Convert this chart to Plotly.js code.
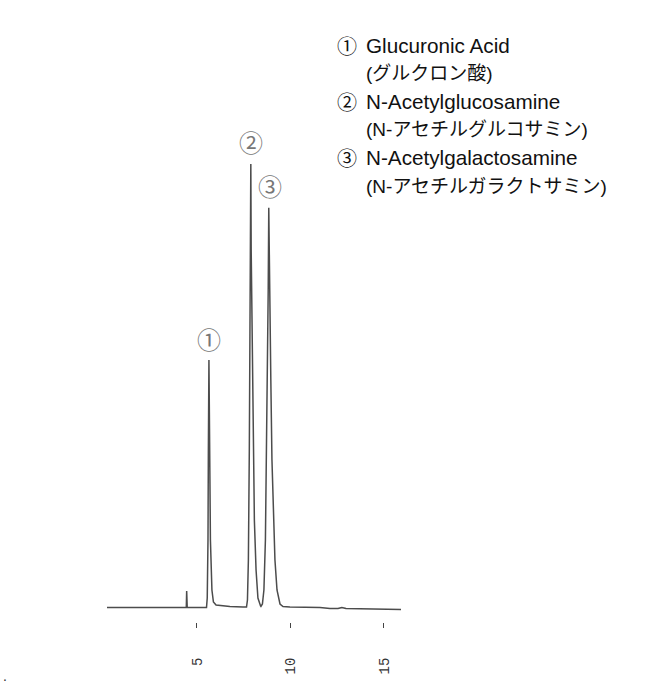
<!DOCTYPE html>
<html>
<head>
<meta charset="utf-8">
<script src="https://cdn.plot.ly/plotly-3.0.1.min.js"></script>
<style>
  html, body { margin: 0; padding: 0; background: #fff; }
  #chart { width: 648px; height: 687px; }
</style>
</head>
<body>
<div id="chart"></div>
<script>
// retention time (min) and detector response (relative, peak 2 = 100)
const retentionTime = [
  0.19, 2.49, 4.36, 4.43, 4.45, 4.48, 4.63, 5.16,
  5.51, 5.55, 5.59, 5.61, 5.64, 5.68, 5.72, 5.80, 5.88, 6.02, 6.23, 6.76, 7.46,
  7.65, 7.70, 7.75, 7.80, 7.82, 7.85, 7.88, 7.90, 7.97, 8.01, 8.07, 8.16, 8.26, 8.40,
  8.42, 8.50, 8.58, 8.66, 8.72, 8.77, 8.81, 8.84, 8.88, 8.95, 9.01, 9.09, 9.17, 9.28, 9.44, 9.60,
  9.97, 11.58, 12.11, 12.54, 12.75, 12.97, 14.25, 15.91
];
const response = [
  0, 0, 0, 0, 3.72, 0, 0, 0,
  0, 2.14, 15.2, 35.5, 55.8, 35.5, 15.2, 3.95, 1.24, 0.56, 0.45, 0.23, 0.11,
  0.11, 1.69, 10.7, 35.5, 51.3, 80.6, 100, 80.6, 51.3, 35.5, 19.7, 8.46, 2.14, 0.34,
  0.23, 0.79, 3.95, 15.2, 33.3, 51.3, 71.6, 90.1, 71.6, 51.3, 33.3, 19.7, 10.7, 3.95, 0.79, 0.23,
  0.11, 0, -0.23, -0.23, 0, -0.23, -0.34, -0.45
];

const peakLabels = ['①', '②', '③'];
const peakTimes = [5.64, 7.88, 8.84];
const peakHeights = [55.8, 100, 90.1];

const compoundNames = ['Glucuronic Acid', 'N-Acetylglucosamine', 'N-Acetylgalactosamine'];
const compoundNamesJa = ['(グルクロン酸)', '(N-アセチルグルコサミン)', '(N-アセチルガラクトサミン)'];

const tickValues = [5, 10, 15];
const tickLabels = ['5', '10', '15'];

// plot box in pixels, used to place the key text
const W = 648, H = 687;
const plotL = 107, plotR = 401, plotT = 140, plotB = 622;
const xp = px => (px - plotL) / (plotR - plotL);
const yp = py => (plotB - py) / (plotB - plotT);

const trace = {
  x: retentionTime,
  y: response,
  type: 'scatter',
  mode: 'lines',
  line: { color: '#4c4c4c', width: 1.5 },
  hoverinfo: 'skip'
};

const annotations = [];

peakLabels.forEach((lab, i) => {
  annotations.push({
    x: peakTimes[i], y: peakHeights[i], xref: 'x', yref: 'y',
    text: lab, showarrow: false,
    xanchor: 'center', yanchor: 'bottom',
    xshift: i === 2 ? 1.5 : 0, yshift: 2.5,
    font: { family: 'Noto Sans CJK JP', size: 24, color: '#777' }
  });
});

compoundNames.forEach((name, i) => {
  const yc = 45 + i * 56.4;
  annotations.push({
    x: xp(346.5), y: yp(yc), xref: 'paper', yref: 'paper',
    text: peakLabels[i], showarrow: false,
    xanchor: 'center', yanchor: 'middle',
    font: { family: 'Noto Sans CJK JP', size: 20, color: '#111' }
  });
  annotations.push({
    x: xp(364), y: yp(yc), xref: 'paper', yref: 'paper',
    text: name, showarrow: false,
    xanchor: 'left', yanchor: 'middle',
    font: { family: 'Liberation Sans, Arial, sans-serif', size: 20.7, color: '#111' }
  });
  annotations.push({
    x: xp(364), y: yp(yc + 28.2), xref: 'paper', yref: 'paper',
    text: compoundNamesJa[i], showarrow: false,
    xanchor: 'left', yanchor: 'middle',
    font: { family: 'Liberation Sans, Noto Sans CJK JP, sans-serif', size: 19, color: '#111' }
  });
});

annotations.push({
  x: xp(5), y: yp(676), xref: 'paper', yref: 'paper',
  text: '.', showarrow: false, xanchor: 'center', yanchor: 'middle',
  font: { family: 'Liberation Sans', size: 14, color: '#333' }
});

const layout = {
  width: W,
  height: H,
  margin: { l: plotL, r: W - plotR, t: plotT, b: H - plotB, pad: 0 },
  paper_bgcolor: '#fff',
  plot_bgcolor: '#fff',
  showlegend: false,
  xaxis: {
    range: [0.19, 15.91],
    showgrid: false,
    zeroline: false,
    showline: false,
    ticks: 'outside',
    ticklen: 5,
    tickwidth: 1,
    tickcolor: '#444',
    tickvals: tickValues,
    ticktext: tickLabels,
    tickangle: -90,
    ticklabelstandoff: 24,
    tickfont: { family: 'Liberation Mono, monospace', size: 14, color: '#333' }
  },
  yaxis: {
    range: [-3.27, 105.4],
    visible: false,
    showgrid: false,
    zeroline: false
  },
  annotations: annotations
};

Plotly.newPlot('chart', [trace], layout, { displayModeBar: false, staticPlot: true });
</script>
</body>
</html>
